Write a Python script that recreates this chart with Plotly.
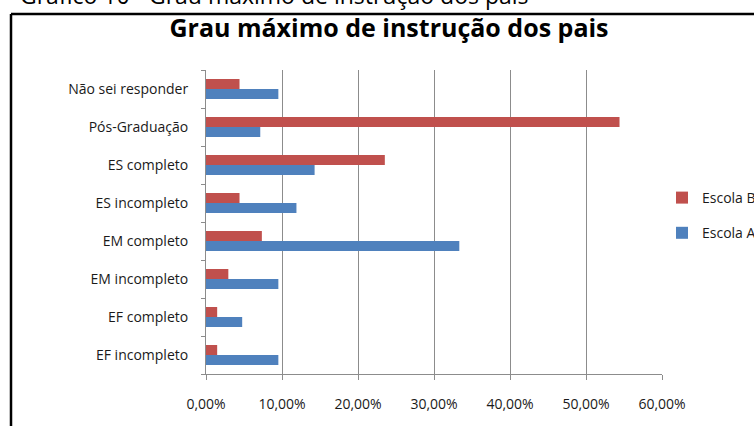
import plotly.graph_objects as go

categories = ["EF incompleto", "EF completo", "EM incompleto", "EM completo",
              "ES incompleto", "ES completo", "Pós-Graduação", "Não sei responder"]
escola_a = [0.0952, 0.0476, 0.0952, 0.3333, 0.1190, 0.1429, 0.0714, 0.0952]
escola_b = [0.0147, 0.0147, 0.0294, 0.0735, 0.0441, 0.2353, 0.5441, 0.0441]
x_ticks = [0, 0.1, 0.2, 0.3, 0.4, 0.5, 0.6]

FONT = "Open Sans"
W, H = 754, 426
L, R, T, B = 206, 92, 70, 52
pw, ph = W - L - R, H - T - B

def px(xp):
    return (xp - L) / pw

def py(yp):
    return (H - B - yp) / ph

fig = go.Figure()
fig.add_trace(go.Bar(y=categories, x=escola_a, orientation="h", name="Escola A",
                     marker=dict(color="#4F81BD", line=dict(width=0)),
                     legendgroup="a", legendrank=2))
fig.add_trace(go.Bar(y=categories, x=escola_b, orientation="h", name="Escola B",
                     marker=dict(color="#C0504D", line=dict(width=0)),
                     legendgroup="b", legendrank=1))

fig.update_layout(
    width=W, height=H,
    margin=dict(l=L, r=R, t=T, b=B, autoexpand=False),
    paper_bgcolor="white", plot_bgcolor="white",
    barmode="group", bargap=0.474, bargroupgap=0,
    separators=",.",
    font=dict(family=FONT, size=14, color="#1a1a1a"),
    title=dict(text="<b>Grau máximo de instrução dos pais</b>",
               font=dict(family=FONT, size=25, color="#000"),
               x=389 / W, xref="container", xanchor="center",
               y=1 - 28 / H, yref="container", yanchor="middle"),
    legend=dict(x=px(662), xanchor="left", y=py(182), yanchor="top",
                traceorder="grouped", tracegroupgap=14,
                font=dict(family=FONT, size=14, color="#1a1a1a"),
                bgcolor="rgba(0,0,0,0)", itemwidth=30),
    xaxis=dict(range=[0, 0.6], tickvals=x_ticks, tickformat=".2%",
               showgrid=True, gridcolor="#8c8c8c", gridwidth=1,
               showline=True, linecolor="#8c8c8c", linewidth=1,
               ticks="outside", ticklen=5, tickcolor="#8c8c8c",
               zeroline=False, fixedrange=True, ticklabelstandoff=12,
               tickfont=dict(family=FONT, size=14, color="#1a1a1a")),
    yaxis=dict(type="category", categoryorder="array", categoryarray=categories,
               showline=True, linecolor="#8c8c8c", linewidth=1,
               ticks="outside", ticklen=4, tickcolor="#8c8c8c",
               tickson="boundaries", showgrid=False, ticklabelstandoff=14,
               fixedrange=True,
               tickfont=dict(family=FONT, size=14, color="#1a1a1a")),
    annotations=[dict(text="Gráfico 10 - Grau máximo de instrução dos pais",
                      xref="paper", yref="paper", x=px(18), y=py(-5),
                      xanchor="left", yanchor="middle", showarrow=False,
                      font=dict(family=FONT, size=23, color="#000"))],
    shapes=[
        dict(type="line", xref="paper", yref="paper", x0=px(11), x1=px(760),
             y0=py(14), y1=py(14), line=dict(color="black", width=2.5)),
        dict(type="line", xref="paper", yref="paper", x0=px(11), x1=px(11),
             y0=py(14), y1=py(440), line=dict(color="black", width=2.5)),
    ],
)

fig.write_html("out.html",
               config={"displayModeBar": False},
               post_script="document.body.style.margin='0';document.body.style.overflow='hidden';")
